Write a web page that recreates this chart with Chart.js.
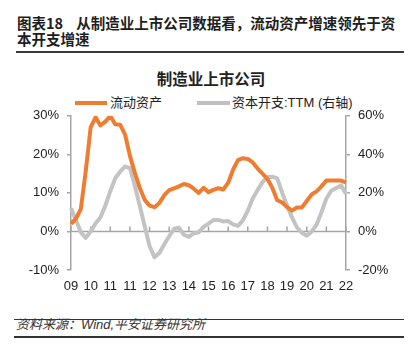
<!DOCTYPE html>
<html>
<head>
<meta charset="utf-8">
<script src="https://cdn.jsdelivr.net/npm/chart.js@4/dist/chart.umd.min.js"></script>
<style>
  html, body { margin: 0; padding: 0; background: #fff; }
  #page { position: relative; width: 413px; height: 350px; overflow: hidden; font-family: "Liberation Sans", "Noto Sans CJK SC", sans-serif; color: #222; }
  .abs { position: absolute; white-space: nowrap; }
  #head { left: 17px; top: 15px; font-family: "Noto Sans CJK SC", sans-serif; font-size: 14.5px; line-height: 16px; font-weight: bold; color: #1e1e1e; }
  #headRule { left: 16px; top: 51px; width: 388px; height: 2px; background: #3a3a3a; }
  #chartTitle { left: 111px; top: 70px; width: 200px; text-align: center; font-family: "Noto Sans CJK SC", sans-serif; font-size: 15.5px; line-height: 17px; font-weight: bold; color: #222; }
  .swatch { height: 4px; top: 101px; }
  .legText { top: 95px; font-family: "Liberation Sans", "Noto Sans CJK SC", sans-serif; font-size: 13px; line-height: 16px; color: #222; }
  #chartBox { left: 0; top: 100px; width: 413px; height: 200px; }
  .footRule { left: 14px; width: 390px; height: 1.5px; background: #333; }
  #foot { left: 16px; top: 317px; font-family: "Liberation Sans", "Noto Sans CJK SC", sans-serif; font-size: 13px; line-height: 16px; font-style: italic; color: #333; }
</style>
</head>
<body>
<div id="page">
  <div id="head" class="abs">图表18&nbsp;&nbsp;&nbsp;&nbsp;从制造业上市公司数据看，流动资产增速领先于资<br>本开支增速</div>
  <div id="headRule" class="abs"></div>
  <div id="chartTitle" class="abs">制造业上市公司</div>
  <div class="abs swatch" style="left:75px;width:32px;background:#EF7D31;"></div>
  <div class="abs legText" style="left:110px;">流动资产</div>
  <div class="abs swatch" style="left:197px;width:33px;background:#C0C0C0;"></div>
  <div class="abs legText" style="left:232px;">资本开支:TTM (右轴)</div>
  <div id="chartBox" class="abs"><canvas id="c" width="413" height="200"></canvas></div>
  <div class="abs footRule" style="top:318.5px;"></div>
  <div id="foot" class="abs">资料来源：Wind,平安证券研究所</div>
  <div class="abs footRule" style="top:336px;"></div>
</div>
<script>
// Year labels shown under the axis, one every four points
const tickLabels = ["09","10","11","11","12","13","14","15","16","17","18","19","20","21","22"];
const pointsPerTick = 4;

// 流动资产 growth, % (left axis)
const currentAssets = [
  2.0, 3.3, 5.8, 15.6, 27.0, 29.6, 27.5, 28.5, 30.0, 27.8,
  27.7, 25.2, 19.6, 15.2, 11.3, 8.2, 6.7, 6.3, 7.4, 9.4,
  10.7, 11.2, 11.7, 12.3, 12.0, 11.1, 10.0, 11.3, 10.2, 10.8,
  11.2, 10.9, 12.6, 16.0, 18.5, 19.0, 18.8, 17.9, 16.3, 15.0,
  13.6, 11.3, 8.1, 7.5, 6.3, 5.4, 6.2, 6.2, 7.9, 9.6,
  10.4, 11.7, 13.2, 13.2, 13.2, 13.2, 12.7
];

// 资本开支:TTM growth, % (right axis)
const capexTTM = [
  12.0, 6.0, -0.4, -3.3, -0.1, 4.1, 7.4, 13.4, 20.9, 27.6,
  31.0, 33.7, 32.9, 23.7, 13.3, 2.8, -7.6, -13.4, -11.2, -6.6,
  -2.5, 1.4, 1.9, -1.7, -2.8, -0.9, -0.5, 2.4, 4.1, 5.9,
  6.0, 5.2, 5.4, 3.7, 2.9, 5.7, 10.8, 17.1, 21.5, 25.6,
  28.2, 28.4, 27.5, 20.1, 13.4, 7.3, 2.2, -0.7, -2.2, -0.1,
  3.5, 9.9, 17.1, 21.1, 22.5, 23.9, 19.5
];

const categories = currentAssets.map((_, i) => i);

const axisColor = "#A6A6A6";
const labelFont = { family: "Liberation Sans", size: 13 };

// Horizontal zero line with upward tick marks at each year label
const zeroAxis = {
  id: "zeroAxis",
  beforeDatasetsDraw(chart) {
    const { ctx, chartArea, scales } = chart;
    const y0 = Math.round(scales.y.getPixelForValue(0)) + 0.5;
    ctx.save();
    ctx.strokeStyle = axisColor;
    ctx.lineWidth = 1.5;
    ctx.beginPath();
    ctx.moveTo(chartArea.left, y0);
    ctx.lineTo(chartArea.right, y0);
    for (let i = 0; i < categories.length; i += pointsPerTick) {
      const x = scales.x.getPixelForValue(i);
      ctx.moveTo(x, y0);
      ctx.lineTo(x, y0 - 5);
    }
    ctx.stroke();
    ctx.restore();
  }
};

new Chart(document.getElementById("c"), {
  type: "line",
  data: {
    labels: categories,
    datasets: [
      {
        label: "流动资产",
        data: currentAssets,
        yAxisID: "y",
        borderColor: "#EF7D31",
        borderWidth: 4,
        pointRadius: 0,
        tension: 0,
        borderJoinStyle: "round",
        borderCapStyle: "butt"
      },
      {
        label: "资本开支:TTM (右轴)",
        data: capexTTM,
        yAxisID: "y1",
        borderColor: "#C3C3C3",
        borderWidth: 4,
        pointRadius: 0,
        tension: 0,
        borderJoinStyle: "round",
        borderCapStyle: "butt"
      }
    ]
  },
  options: {
    responsive: false,
    animation: false,
    devicePixelRatio: 1,
    layout: { padding: { top: 13, left: 0, right: 0, bottom: 0 } },
    plugins: { legend: { display: false }, title: { display: false }, tooltip: { enabled: false } },
    scales: {
      x: {
        type: "category",
        offset: false,
        grid: { display: false, drawTicks: false },
        border: { display: false },
        ticks: {
          autoSkip: false,
          maxRotation: 0,
          padding: 9,
          color: "#222",
          font: labelFont,
          callback: (v, i) => (i % pointsPerTick === 0 ? tickLabels[i / pointsPerTick] : null)
        },
        afterFit(scale) { scale.height = 30; }
      },
      y: {
        position: "left",
        min: -10,
        max: 30,
        grid: { drawOnChartArea: false, drawTicks: true, tickLength: 4, color: axisColor, lineWidth: 1.5 },
        border: { display: true, color: axisColor, width: 1.5 },
        ticks: { stepSize: 10, padding: 8, color: "#222", font: labelFont, callback: v => v + "%" },
        afterFit(scale) { scale.width = 71; }
      },
      y1: {
        position: "right",
        min: -20,
        max: 60,
        grid: { drawOnChartArea: false, drawTicks: true, tickLength: 4, color: axisColor, lineWidth: 1.5 },
        border: { display: true, color: axisColor, width: 1.5 },
        ticks: { stepSize: 20, padding: 8, color: "#222", font: labelFont, callback: v => v + "%" },
        afterFit(scale) { scale.width = 67; }
      }
    }
  },
  plugins: [zeroAxis]
});
</script>
</body>
</html>
